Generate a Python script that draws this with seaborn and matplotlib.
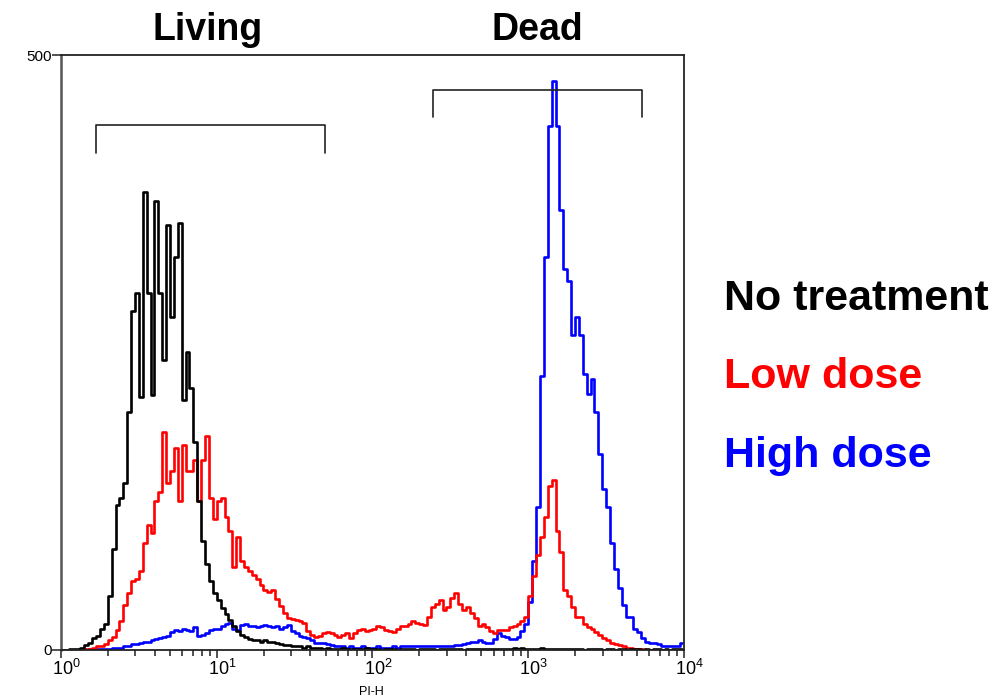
import numpy as np
import pandas as pd
import seaborn as sns
import matplotlib.pyplot as plt
from matplotlib.ticker import FixedLocator, LogLocator, NullFormatter
from matplotlib.transforms import ScaledTranslation

sns.set_style("white")
plt.rcParams['font.family'] = ['Liberation Sans', 'DejaVu Sans']
plt.rcParams['mathtext.fontset'] = 'custom'
plt.rcParams['mathtext.rm'] = 'Liberation Sans'
plt.rcParams['mathtext.it'] = 'Liberation Sans'
plt.rcParams['text.color'] = 'black'
plt.rcParams['xtick.color'] = 'black'
plt.rcParams['ytick.color'] = 'black'

# 160 log channels over four decades of PI-H
n_channels = 160
pi_h = 10 ** ((np.arange(n_channels) + 0.5) * 4 / n_channels)

no_treatment = [
    0, 0, 1, 1, 1, 2, 4, 6, 10, 12,
    18, 22, 45, 85, 122, 128, 140, 200, 285, 300,
    213, 385, 300, 214, 377, 300, 244, 357, 280, 330,
    359, 210, 250, 220, 175, 125, 92, 72, 58, 48,
    42, 35, 30, 25, 20, 16, 13, 11, 9, 8,
    8, 7, 8, 7, 7, 6, 5, 4, 4, 3,
    3, 3, 2, 3, 2, 2, 2, 1, 2, 1,
    1, 1, 2, 1, 1, 1, 1, 1, 2, 1,
    1, 1, 0, 1, 1, 1, 0, 1, 1, 1,
    1, 0, 1, 1, 1, 1, 0, 1, 1, 1,
    1, 1, 1, 0, 1, 1, 1, 1, 1, 1,
    1, 1, 1, 1, 1, 1, 2, 1, 2, 1,
    1, 1, 1, 2, 1, 1, 1, 1, 1, 1,
    1, 1, 1, 1, 0, 1, 1, 1, 1, 0,
    1, 1, 0, 1, 1, 0, 1, 1, 1, 0,
    1, 0, 1, 1, 0, 1, 0, 1, 1, 1,
]

low_dose = [
    0, 0, 0, 0, 0, 0, 1, 1, 2, 3,
    3, 5, 8, 11, 17, 24, 38, 48, 58, 60,
    66, 90, 105, 98, 125, 133, 183, 140, 150, 170,
    125, 172, 150, 150, 160, 125, 160, 180, 128, 110,
    125, 128, 112, 100, 70, 95, 75, 70, 66, 63,
    60, 55, 50, 49, 50, 43, 37, 31, 27, 26,
    25, 24, 23, 16, 13, 11, 12, 14, 15, 14,
    13, 11, 13, 14, 10, 14, 17, 18, 16, 17,
    18, 20, 19, 17, 16, 15, 18, 20, 20, 22,
    24, 23, 22, 21, 28, 36, 39, 42, 34, 36,
    44, 48, 39, 34, 36, 31, 27, 20, 22, 19,
    16, 14, 17, 17, 17, 19, 20, 22, 24, 28,
    45, 62, 80, 95, 112, 138, 143, 100, 82, 50,
    45, 36, 28, 28, 22, 19, 18, 15, 13, 10,
    8, 6, 5, 4, 3, 2, 2, 1, 1, 1,
    0, 0, 0, 0, 0, 0, 0, 0, 0, 0,
]

high_dose = [
    0, 0, 0, 0, 0, 0, 0, 1, 1, 1,
    1, 1, 1, 2, 2, 2, 3, 3, 5, 5,
    6, 7, 7, 8, 9, 10, 11, 12, 15, 17,
    16, 18, 17, 16, 19, 12, 13, 14, 17, 18,
    18, 20, 22, 23, 18, 17, 21, 22, 20, 20,
    19, 20, 21, 20, 19, 20, 18, 19, 21, 16,
    14, 12, 11, 10, 8, 6, 6, 6, 5, 4,
    3, 3, 3, 2, 3, 2, 2, 3, 2, 2,
    2, 3, 2, 2, 2, 3, 2, 3, 3, 3,
    3, 3, 3, 3, 3, 3, 3, 3, 3, 3,
    3, 4, 4, 5, 6, 7, 7, 8, 7, 6,
    6, 9, 14, 12, 11, 9, 9, 11, 16, 22,
    40, 75, 120, 230, 330, 440, 478, 440, 370, 320,
    310, 265, 280, 265, 232, 215, 228, 200, 165, 135,
    120, 90, 68, 52, 38, 28, 28, 18, 15, 10,
    7, 6, 6, 5, 3, 3, 3, 3, 3, 6,
]

groups = ["No treatment", "Low dose", "High dose"]
colors = {"No treatment": "#000000", "Low dose": "#ff0000", "High dose": "#0000ff"}

# gates: (low, high, bar height, leg bottom)
living_gate = (1.68, 49.5, 441, 418)
dead_gate = (245, 5370, 471, 448)

df = pd.DataFrame({
    "PI-H": np.tile(pi_h, 3),
    "count": no_treatment + low_dose + high_dose,
    "group": np.repeat(groups, n_channels),
})

fig = plt.figure(figsize=(10.06, 6.98), dpi=100)
ax = fig.add_axes([0.0606, 0.0688, 0.6193, 0.8524])

sns.lineplot(data=df, x="PI-H", y="count", hue="group",
             hue_order=["High dose", "Low dose", "No treatment"],
             palette=colors, drawstyle="steps-mid", lw=1.9,
             legend=False, estimator=None, ax=ax)

for lo, hi, top, leg in (living_gate, dead_gate):
    ax.plot([lo, lo, hi, hi], [leg, top, top, leg], color="#222222", lw=1.2)

ax.set_xscale("log")
ax.set_xlim(1, 1e4)
ax.set_ylim(0, 500)
ax.xaxis.set_major_locator(FixedLocator([1, 10, 100, 1000, 10000]))
ax.set_xticklabels([r"$10^0$", r"$10^1$", r"$10^2$", r"$10^3$", r"$10^4$"])
ax.xaxis.set_minor_locator(LogLocator(base=10, subs=np.arange(2, 10)))
ax.xaxis.set_minor_formatter(NullFormatter())
ax.set_yticks([0, 500])
ax.set_yticklabels(["0", "500"])
ax.set_xlabel("")
ax.set_ylabel("")

ax.tick_params(axis="x", which="major", direction="out", length=5.5, width=1.2,
               color="#333333", labelsize=13, pad=1, bottom=True)
ax.tick_params(axis="x", which="minor", direction="out", length=4.5, width=1.2,
               color="#333333", bottom=True)
ax.tick_params(axis="y", direction="out", length=6.5, width=1.2,
               color="#333333", labelsize=11, pad=0, left=True)
offset = ScaledTranslation(4 / 72, 0, fig.dpi_scale_trans)
for lab in ax.get_xticklabels():
    lab.set_transform(lab.get_transform() + offset)

for side in ["left", "bottom", "top", "right"]:
    ax.spines[side].set_visible(True)
    ax.spines[side].set_color("#222222")
    ax.spines[side].set_linewidth(1.3)
ax.spines["left"].set_color("#555555")
ax.spines["left"].set_linewidth(1.8)

fig.text(0.369, 0.004, "PI-H", ha="center", va="baseline", fontsize=9)

fig.text(0.2068, 0.9427, "Living", ha="center", va="baseline",
         fontsize=27, fontweight="bold")
fig.text(0.534, 0.9427, "Dead", ha="center", va="baseline",
         fontsize=27, fontweight="bold")

for label, yb in zip(groups, [0.5559, 0.4441, 0.331]):
    fig.text(0.7197, yb, label, ha="left", va="baseline", fontsize=31,
             fontweight="bold", color=colors[label])

fig.savefig("out.png", dpi=100)
